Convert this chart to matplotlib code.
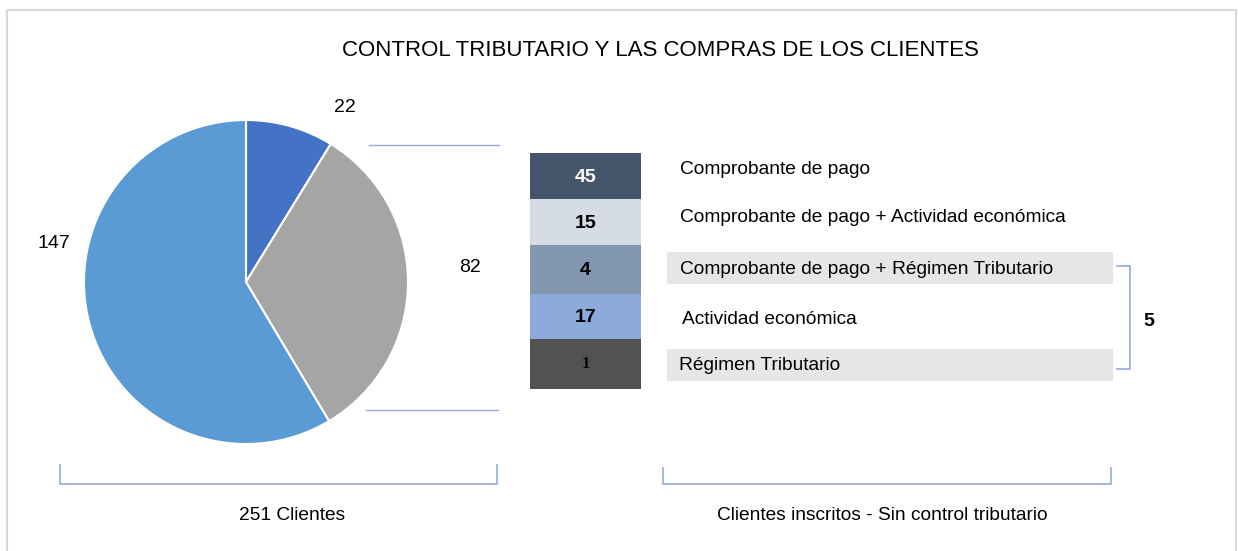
import matplotlib.pyplot as plt
from matplotlib.patches import Rectangle

plt.rcParams['font.family'] = ['Liberation Sans', 'DejaVu Sans']

# data
title = 'CONTROL TRIBUTARIO Y LAS COMPRAS DE LOS CLIENTES'
pie_values = [22, 82, 147]
pie_colors = ['#4472c4', '#a5a5a5', '#5b9bd5']
pie_label_pos = [(345, 107), (470, 266), (54, 243)]

box_values = [45, 15, 4, 17, 1]
box_colors = ['#44546a', '#d6dce5', '#8497b0', '#8eaadb', '#525252']
box_text_colors = ['white', 'black', 'black', 'black', 'black']
box_labels = ['Comprobante de pago',
              'Comprobante de pago + Actividad económica',
              'Comprobante de pago + Régimen Tributario',
              'Actividad económica',
              'Régimen Tributario']
label_shaded = [False, False, True, False, True]
bracket_total = 5
left_caption = '251 Clientes'
right_caption = 'Clientes inscritos - Sin control tributario'

W, H = 1238, 551
line_c = '#8faadc'
fs = 13.8

fig = plt.figure(figsize=(W / 100, H / 100), dpi=100)

# overlay in pixel coordinates
ax = fig.add_axes([0, 0, 1, 1])
ax.set_xlim(0, W)
ax.set_ylim(H, 0)
ax.axis('off')

# outer frame (no bottom edge visible)
ax.plot([7, 7, 1236, 1236], [H + 5, 9.5, 9.5, H + 5], color='#d9d9d9', lw=1.5)

ax.text(660, 51, title, ha='center', va='center', fontsize=16)

# pie
cx, cy, r = 246, 282, 162
ax_pie = fig.add_axes([(cx - r) / W, (H - cy - r) / H, 2 * r / W, 2 * r / H])
ax_pie.pie(pie_values, colors=pie_colors, startangle=90, counterclock=False,
           wedgeprops=dict(edgecolor='white', linewidth=1.5))
ax_pie.set_xlim(-1, 1)
ax_pie.set_ylim(-1, 1)

for v, (x, y) in zip(pie_values, pie_label_pos):
    ax.text(x, y + 1, str(v), ha='center', va='center', fontsize=14)

# connector lines
ax.plot([369, 499], [145, 145], color=line_c, lw=1)
ax.plot([366, 498], [410, 410], color=line_c, lw=1)

# stacked boxes
bx0, bx1 = 530, 641
edges = [153, 199, 245, 294, 339, 389]
for i, v in enumerate(box_values):
    y0, y1 = edges[i], edges[i + 1]
    ax.add_patch(Rectangle((bx0, y0), bx1 - bx0, y1 - y0, facecolor=box_colors[i],
                           edgecolor='none'))
    if v == 1:
        ax.text((bx0 + bx1) / 2, (y0 + y1) / 2, str(v), ha='center', va='center',
                fontsize=12, fontweight='bold', color=box_text_colors[i],
                family='Liberation Serif')
    else:
        ax.text((bx0 + bx1) / 2, (y0 + y1) / 2 + 1, str(v), ha='center', va='center',
                fontsize=14, fontweight='bold', color=box_text_colors[i])

# category labels
label_y = [170, 218, 269, 319, 366]
label_x = [680, 680, 680, 682, 679]
for i, lab in enumerate(box_labels):
    if label_shaded[i]:
        ax.add_patch(Rectangle((667, label_y[i] - 17), 446, 32, facecolor='#e7e6e6',
                               edgecolor='none'))
    ax.text(label_x[i], label_y[i], lab, ha='left', va='center', fontsize=fs)

# right bracket
ax.plot([1117, 1130, 1130, 1117], [266, 266, 369, 369], color=line_c, lw=1.2)
ax.text(1149, 321, str(bracket_total), ha='center', va='center', fontsize=14,
        fontweight='bold')

# bottom brackets
ax.plot([60, 60, 497, 497], [465, 484, 484, 465], color=line_c, lw=1.2)
ax.plot([663, 663, 1111, 1111], [468, 484, 484, 468], color=line_c, lw=1.2)
ax.text(292, 515, left_caption, ha='center', va='center', fontsize=fs)
ax.text(882, 516, right_caption, ha='center', va='center', fontsize=fs)

fig.savefig('out.png', dpi=100)
